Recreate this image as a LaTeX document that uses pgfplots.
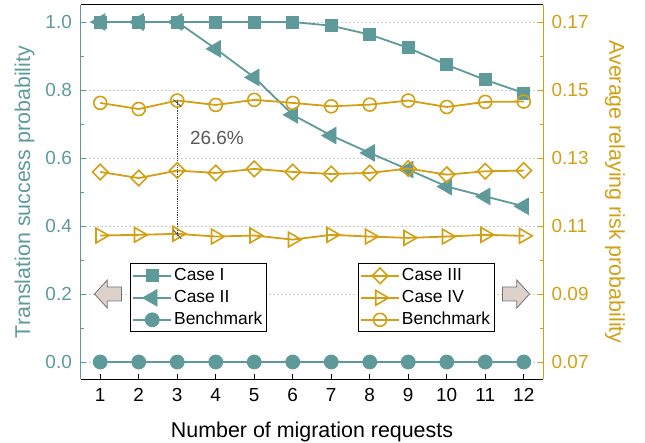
\documentclass[border=0pt]{standalone}
\usepackage{pgfplots}
\pgfplotsset{compat=1.18}
\usepackage{fontspec}
\setmainfont{Liberation Sans}
\definecolor{teal1}{RGB}{95,154,154}
\definecolor{gold1}{RGB}{210,160,20}
\definecolor{arrowfill}{RGB}{221,210,203}

\pgfplotsset{
  base/.style={
    scale only axis, width=462bp, height=374bp,
    xmin=0.5, xmax=12.5,
    /pgf/number format/assume math mode=true,
    tick align=inside,
    major tick length=5bp, minor tick length=3bp,
    scaled y ticks=false,
    legend image code/.code={\draw[mark repeat=2,mark phase=2] plot coordinates {(0bp,0bp)(19bp,0bp)(38bp,0bp)};},
    legend style={draw=black, line width=0.8bp, font=\fontsize{17.5}{20}\selectfont,
      inner xsep=2bp, inner ysep=2bp, row sep=2bp, cells={anchor=west},
      nodes={inner sep=2bp, text height=12.5bp, text depth=3.5bp}},
  }
}

\begin{document}
\begin{tikzpicture}
\useasboundingbox (-81bp,-64bp) rectangle (564bp,379bp);
\begin{axis}[base,
  axis x line*=bottom, axis y line*=left,
  ymin=-0.05, ymax=1.05,
  ytick={0,0.2,0.4,0.6,0.8,1.0}, minor ytick={0.1,0.3,0.5,0.7,0.9},
  xtick={1,...,12},
  ymajorgrids, grid style={gray!40, line width=0.6bp, dash pattern=on 2bp off 2bp},
  x axis line style={black, line width=1bp},
  y axis line style={teal1, line width=1bp},
  x tick style={black, line width=0.8bp},
  y tick style={teal1, line width=0.8bp},
  xticklabel style={font=\fontsize{19}{20}\selectfont, inner sep=0pt, yshift=-9bp, text=black},
  yticklabel style={font=\fontsize{19}{20}\selectfont, text=teal1, inner sep=0pt, xshift=-9bp,
     /pgf/number format/.cd, fixed, fixed zerofill, precision=1},
  xlabel={Number of migration requests},
  ylabel={Translation success probability},
  every axis x label/.style={at={(axis description cs:0.5,-0.156)}, anchor=base},
  every axis y label/.style={at={(axis description cs:-0.1220,0.5)}, anchor=center, rotate=90},
  xlabel style={font=\fontsize{21.5}{24}\selectfont, text=black},
  ylabel style={font=\fontsize{21.5}{24}\selectfont, text=teal1},
  legend style={at={(axis description cs:0.106,0.309)}, anchor=north west},
]
\addplot[teal1, line width=1.8bp, mark=square*, mark size=6bp, mark options={line width=0.8bp}]
  coordinates {(1,1)(2,1)(3,1)(4,1)(5,1)(6,1)(7,0.989)(8,0.963)(9,0.924)(10,0.874)(11,0.830)(12,0.791)};
\addlegendentry{Case I}
\addplot[teal1, line width=1.8bp, mark=triangle*, mark size=9.5bp, mark options={rotate=90, line width=0.8bp}]
  coordinates {(1,1)(2,1)(3,1)(4,0.921)(5,0.837)(6,0.727)(7,0.666)(8,0.615)(9,0.566)(10,0.516)(11,0.487)(12,0.458)};
\addlegendentry{Case II}
\addplot[teal1, line width=1.8bp, mark=*, mark size=7bp, mark options={line width=0.8bp}]
  coordinates {(1,0)(2,0)(3,0)(4,0)(5,0)(6,0)(7,0)(8,0)(9,0)(10,0)(11,0)(12,0)};
\addlegendentry{Benchmark}
\coordinate (LA) at (axis cs:0.852,0.2);
\coordinate (RA) at (axis cs:12.15,0.2);
\end{axis}

\begin{axis}[base,
  axis x line*=top, axis y line*=right,
  xtick=\empty,
  ymin=0.065, ymax=0.175,
  ytick={0.07,0.09,0.11,0.13,0.15,0.17}, minor ytick={0.08,0.10,0.12,0.14,0.16},
  x axis line style={black, line width=1bp},
  y axis line style={gold1, line width=1bp},
  y tick style={gold1, line width=0.8bp},
  yticklabel style={font=\fontsize{19}{20}\selectfont, text=gold1, inner sep=0pt, xshift=8.5bp,
     /pgf/number format/.cd, fixed, fixed zerofill, precision=2},
  ylabel={Average relaying risk probability},
  every axis y label/.style={at={(axis description cs:1.1558,0.5)}, anchor=center, rotate=-90},
  ylabel style={font=\fontsize{21.5}{24}\selectfont, text=gold1},
  legend style={at={(axis description cs:0.599,0.309)}, anchor=north west},
]
\addplot[gold1, line width=1.8bp, mark=square, mark size=5.5bp, mark options={rotate=45, line width=1.6bp}]
  coordinates {(1,0.1259)(2,0.1241)(3,0.1263)(4,0.1256)(5,0.1268)(6,0.1259)(7,0.1253)(8,0.1256)(9,0.1269)(10,0.1251)(11,0.1261)(12,0.1263)};
\addlegendentry{Case III}
\addplot[gold1, line width=1.8bp, mark=triangle, mark size=8.5bp, mark options={rotate=-90, line width=1.6bp}]
  coordinates {(1,0.1072)(2,0.1074)(3,0.1077)(4,0.1069)(5,0.1072)(6,0.1060)(7,0.1074)(8,0.1069)(9,0.1065)(10,0.1069)(11,0.1074)(12,0.1071)};
\addlegendentry{Case IV}
\addplot[gold1, line width=1.8bp, mark=o, mark size=6.5bp, mark options={line width=1.6bp}]
  coordinates {(1,0.1462)(2,0.1444)(3,0.1469)(4,0.1456)(5,0.1471)(6,0.1462)(7,0.1452)(8,0.1457)(9,0.1469)(10,0.1450)(11,0.1465)(12,0.1466)};
\addlegendentry{Benchmark}
\draw[densely dotted, black!75, line width=0.8bp] (axis cs:3,0.1469) -- (axis cs:3,0.1072);
\coordinate (ST) at (axis cs:3,0.1469);
\coordinate (SB) at (axis cs:3,0.1077);
\node[text=black!65, font=\fontsize{19}{20}\selectfont] at (axis cs:4.03,0.1359) {26.6\%};
\end{axis}
\draw[black!70, line width=0.8bp] (ST) ++(-4bp,1bp) -- ++(8bp,-7bp);
\draw[black!70, line width=0.8bp] (SB) ++(-4bp,4bp) -- ++(8bp,-9bp);
\draw[fill=arrowfill, draw=black!55, line width=0.8bp] (LA) -- ++(12.7bp,14bp) -- ++(0,-7bp) -- ++(14.3bp,0) -- ++(0,-14bp) -- ++(-14.3bp,0) -- ++(0,-7bp) -- cycle;
\draw[fill=arrowfill, draw=black!55, line width=0.8bp] (RA) -- ++(-12.7bp,14bp) -- ++(0,-7bp) -- ++(-14.3bp,0) -- ++(0,-14bp) -- ++(14.3bp,0) -- ++(0,-7bp) -- cycle;
\end{tikzpicture}
\end{document}
